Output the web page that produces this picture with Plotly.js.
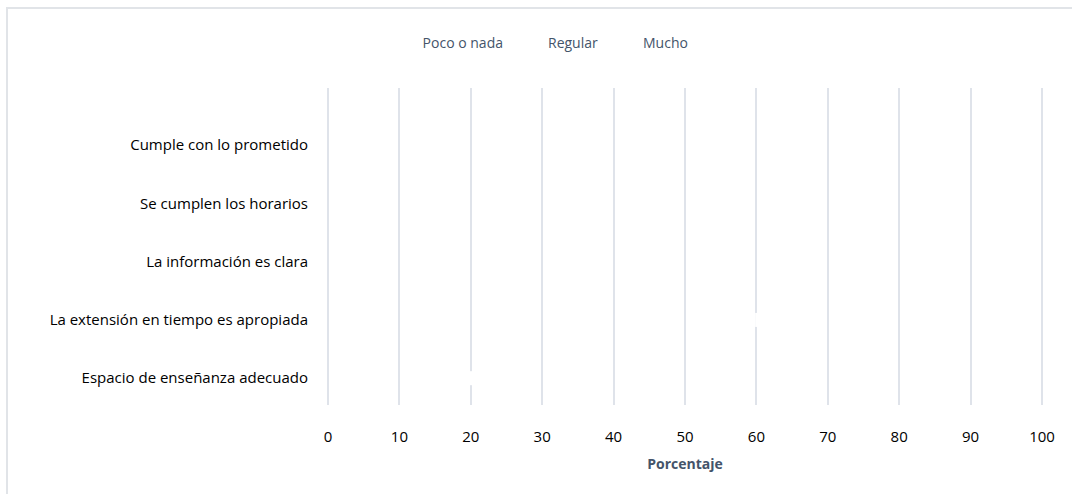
<!DOCTYPE html>
<html>
<head>
<meta charset="utf-8">
<script src="https://cdn.plot.ly/plotly-3.0.1.min.js"></script>
<style>
  html, body { margin: 0; padding: 0; background: #ffffff; }
  #wrap { position: relative; width: 1072px; height: 494px; overflow: hidden; }
  #chart { width: 1072px; height: 494px; }
  #frame { position: absolute; left: 6px; top: 7px; width: 1200px; height: 700px;
           border-left: 2px solid #e1e4e8; border-top: 2px solid #e1e4e8; pointer-events: none; }
</style>
</head>
<body>
<div id="wrap">
  <div id="chart"></div>
  <div id="frame"></div>
</div>
<script>
// Categories (bottom to top as drawn)
const categories = [
  "Espacio de enseñanza adecuado",
  "La extensión en tiempo es apropiada",
  "La información es clara",
  "Se cumplen los horarios",
  "Cumple con lo prometido"
];
const seriesNames = ["Poco o nada", "Regular", "Mucho"];
const pocoNada = [20, 12, 4, 6, 8];
const regular  = [33, 48, 19, 23, 27];
const mucho    = [47, 40, 77, 71, 65];
const xTicks = [0, 10, 20, 30, 40, 50, 60, 70, 80, 90, 100];

const font = "Open Sans, Lato, sans-serif";
const seriesValues = [pocoNada, regular, mucho];

// Stacked bars: transparent fill (as in the reference, bars are not visible)
const traces = seriesValues.map((vals, i) => ({
  type: "bar",
  orientation: "h",
  name: seriesNames[i],
  y: categories,
  x: vals,
  width: 0.18,
  marker: { color: "rgba(255,255,255,0)", line: { width: 0 } },
  hoverinfo: "x+name"
}));

// White segment separators at the stack boundaries (derived from the data)
const b1 = pocoNada.map(v => v);
const b2 = pocoNada.map((v, i) => v + regular[i]);
traces.push({
  type: "scatter",
  mode: "markers",
  x: b1.concat(b2),
  y: categories.concat(categories),
  showlegend: false,
  hoverinfo: "skip",
  marker: { symbol: "line-ns-open", size: 10, color: "#ffffff", line: { color: "#ffffff", width: 2.5 } }
});

const layout = {
  width: 1072,
  height: 494,
  barmode: "stack",
  paper_bgcolor: "#ffffff",
  plot_bgcolor: "rgba(0,0,0,0)",
  margin: { l: 325, r: 27, t: 88, b: 89 },
  font: { family: font, size: 14, color: "#000000" },
  showlegend: true,
  legend: {
    orientation: "h",
    x: 0.08, xanchor: "left",
    y: 1.142, yanchor: "middle",
    font: { family: font, size: 14, color: "#44546a" },
    bgcolor: "rgba(0,0,0,0)",
    traceorder: "normal",
    itemwidth: 30
  },
  xaxis: {
    range: [-0.42, 100.42],
    tickvals: xTicks,
    ticktext: xTicks.map(String),
    showgrid: true,
    gridcolor: "#dfe3ea",
    gridwidth: 2,
    zeroline: false,
    showline: false,
    ticks: "",
    ticklabelstandoff: 21,
    tickfont: { family: font, size: 15, color: "#000000" },
    title: { text: "<b>Porcentaje</b>", font: { family: font, size: 14, color: "#44546a" }, standoff: 14 },
    fixedrange: true
  },
  yaxis: {
    type: "category",
    categoryorder: "array",
    categoryarray: categories,
    range: [-0.46, 4.98],
    showgrid: false,
    zeroline: false,
    showline: false,
    ticks: "",
    ticklabelstandoff: 16,
    tickfont: { family: font, size: 15, color: "#000000" },
    fixedrange: true
  }
};

Plotly.newPlot("chart", traces, layout, { displayModeBar: false, staticPlot: true });
</script>
</body>
</html>
